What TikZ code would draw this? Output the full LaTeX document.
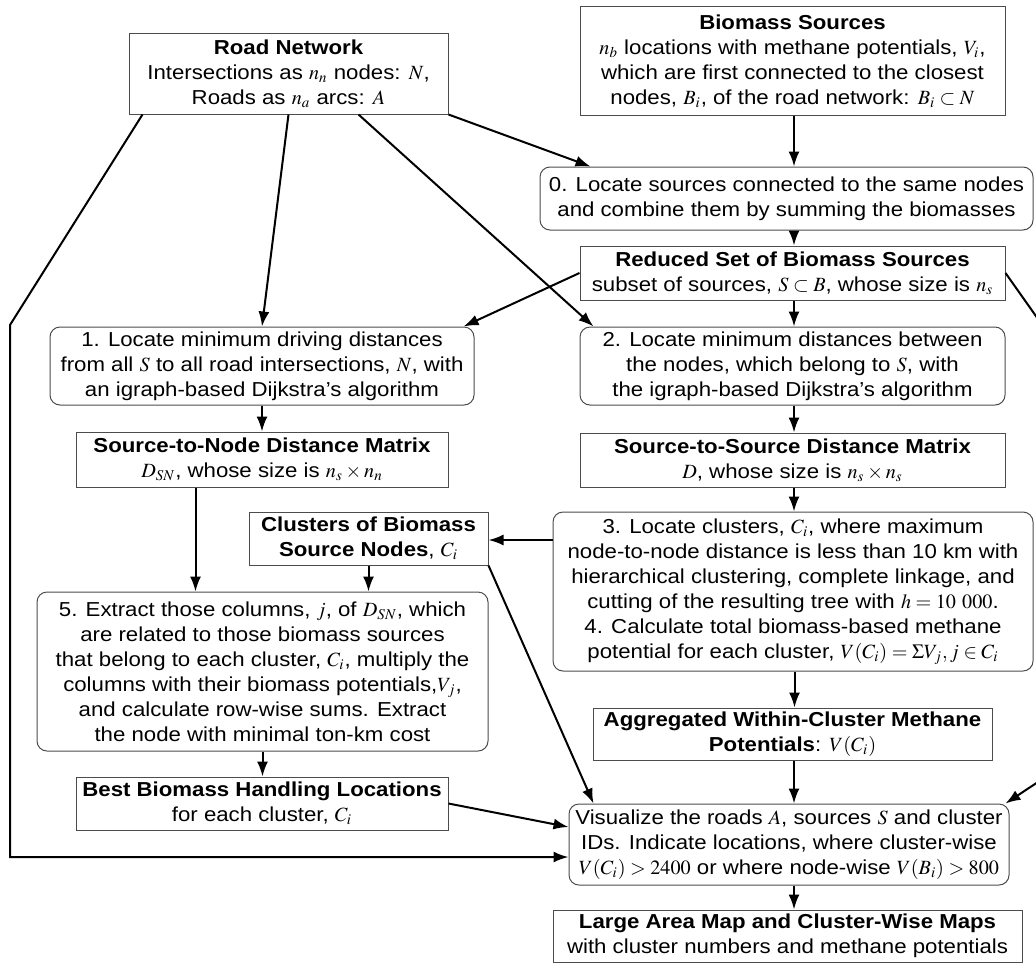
\documentclass[tikz,border=0pt]{standalone}
\usepackage{mathptmx}
\usepackage[no-math]{fontspec}
\setmainfont{Liberation Sans}[FakeStretch=1.1]
\usetikzlibrary{arrows.meta}
\begin{document}
\begin{tikzpicture}[x=0.5pt, y=-0.5pt, font=\fontsize{10.1}{12.5}\selectfont,
		box/.style={draw=black!70, line width=0.5pt, align=center, inner sep=1pt},
		rbox/.style={box, rounded corners=5pt},
		arr/.style={-{Latex[length=7.5pt,width=5.5pt]}, line width=1pt}]
	\useasboundingbox (0,0) rectangle (1036,963);
	% boxes, placed at their centres
	\node[box, minimum width=159.5pt, minimum height=40pt] (rn) at (288.5,74) {\textbf{Road Network}\\ Intersections as $n_n$ nodes: $N$,\\ Roads as $n_a$ arcs: $A$};
	\node[box, minimum width=212.5pt, minimum height=54pt] (bs) at (792.5,61) {\textbf{Biomass Sources}\\ $n_b$ locations with methane potentials, $V_i$,\\ which are first connected to the closest\\ nodes, $B_i$, of the road network: $B_i\subset N$};
	\node[rbox, minimum width=246.5pt, minimum height=31.5pt] (s0) at (786.5,198.5) {0. Locate sources connected to the same nodes\\ and combine them by summing the biomasses};
	\node[box, minimum width=212.5pt, minimum height=27pt] (rs) at (792.5,273) {\textbf{Reduced Set of Biomass Sources}\\ subset of sources, $S\subset B$, whose size is $n_s$};
	\node[rbox, minimum width=212pt, minimum height=39pt] (s1) at (262,366) {1. Locate minimum driving distances\\ from all $S$ to all road intersections, $N$, with\\ an igraph-based Dijkstra's algorithm};
	\node[rbox, minimum width=212.5pt, minimum height=39pt] (s2) at (792.5,366) {2. Locate minimum distances between\\ the nodes, which belong to $S$, with\\ the igraph-based Dijkstra's algorithm};
	\node[box, minimum width=186pt, minimum height=27.5pt] (sn) at (262,459.5) {\textbf{Source-to-Node Distance Matrix}\\ $D_{SN}$, whose size is $n_s\times n_n$};
	\node[box, minimum width=212.5pt, minimum height=27pt] (ss) at (792.5,460) {\textbf{Source-to-Source Distance Matrix}\\ $D$, whose size is $n_s\times n_s$};
	\node[box, minimum width=119.5pt, minimum height=26.5pt] (cl) at (368.5,538.5) {\textbf{Clusters of Biomass}\\ \textbf{Source Nodes}, $C_i$};
	\node[rbox, minimum width=240pt, minimum height=79.5pt] (s3) at (793,591.5) {3. Locate clusters, $C_i$, where maximum\\ node-to-node distance is less than 10 km with\\ hierarchical clustering, complete linkage, and\\ cutting of the resulting tree with $h=10\ 000$.\\ 4. Calculate total biomass-based methane\\ potential for each cluster, $V(C_i)=\Sigma V_j, j\in C_i$};
	\node[rbox, minimum width=225.5pt, minimum height=79.5pt] (s5) at (262.5,671.5) {5. Extract those columns, $j$, of $D_{SN}$, which\\ are related to those biomass sources\\ that belong to each cluster, $C_i$, multiply the\\ columns with their biomass potentials,$V_j$,\\ and calculate row-wise sums. Extract\\ the node with minimal ton-km cost};
	\node[box, minimum width=199.5pt, minimum height=26pt] (ag) at (792.5,734) {\textbf{Aggregated Within-Cluster Methane}\\ \textbf{Potentials}: $V(C_i)$};
	\node[box, minimum width=186pt, minimum height=26.5pt] (bh) at (262,803.5) {\textbf{Best Biomass Handling Locations}\\ for each cluster, $C_i$};
	\node[rbox, minimum width=220pt, minimum height=40.5pt] (vz) at (789,844.5) {Visualize the roads $A$, sources $S$ and cluster\\ IDs. Indicate locations, where cluster-wise\\ $V(C_i)>2400$ or where node-wise $V(B_i)>800$};
	\node[box, minimum width=234.5pt, minimum height=26pt] (lm) at (787.5,936) {\textbf{Large Area Map and Cluster-Wise Maps}\\ with cluster numbers and methane potentials};
	% bends of the two long connectors
	\coordinate (lp1) at (10,325); \coordinate (lp2) at (10,857);
	\coordinate (rt1) at (1050,336); \coordinate (rt2) at (1050,774);
	% connectors
	\draw[arr] (rn.south) -- (s1.north);
	\draw[arr] ([xshift=35pt]rn.south) -- ([xshift=7pt]s2.north west);
	\draw[arr] (rn.south east) -- ([xshift=25.5pt]s0.north west);
	\draw[arr] ([xshift=7pt]rn.south west) -- (lp1) -- (lp2) -- (lp2 -| vz.west);
	\draw[arr] ([xshift=0.75pt]bs.south) -- ([xshift=0.75pt]bs.south |- s0.north);
	\draw[arr] ([xshift=0.75pt]rs.north |- s0.south) -- ([xshift=0.75pt]rs.north);
	\draw[arr] (rs.west) -- ([xshift=-5.5pt]s1.north east);
	\draw[arr] ([xshift=0.75pt]rs.south) -- ([xshift=0.75pt]s2.north);
	\draw[arr] (rs.east) -- (rt1) -- (rt2) -- ([xshift=-2pt]vz.north east);
	\draw[arr] (s1.south) -- (sn.north);
	\draw[arr] ([xshift=0.75pt]s2.south) -- ([xshift=0.75pt]ss.north);
	\draw[arr] ([xshift=0.75pt]ss.south) -- ([xshift=0.75pt]ss.south |- s3.north);
	\draw[arr] ([yshift=-0.75pt]cl.east -| s3.west) -- ([yshift=-0.75pt]cl.east);
	\draw[arr] ([xshift=60pt]sn.south west) -- ([xshift=60pt]sn.south west |- s5.north);
	\draw[arr] (cl.south) -- (cl.south |- s5.north);
	\draw[arr] (cl.south east) -- ([xshift=12.5pt]vz.north west);
	\draw[arr] ([xshift=0.75pt]s3.south) -- ([xshift=0.75pt]s3.south |- ag.north);
	\draw[arr] ([xshift=0.75pt]ag.south) -- ([xshift=0.75pt]ag.south |- vz.north);
	\draw[arr] (s5.south) -- (s5.south |- bh.north);
	\draw[arr] (bh.east) -- ([yshift=8.75pt]vz.west);
	\draw[arr] ([xshift=0.75pt]ag.south |- vz.south) -- ([xshift=0.75pt]ag.south |- lm.north);
\end{tikzpicture}
\end{document}
